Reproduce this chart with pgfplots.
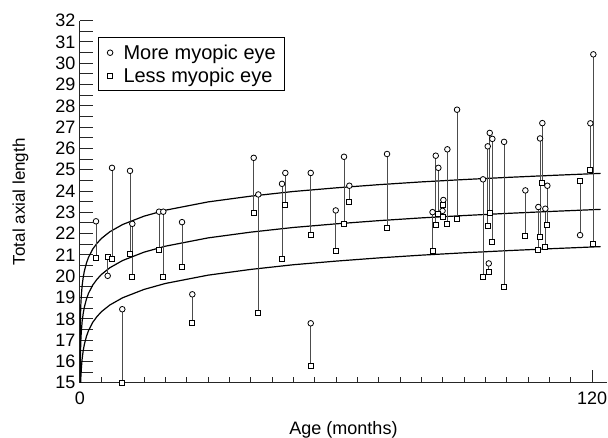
\documentclass[border=0pt]{standalone}
\usepackage{pgfplots}
\pgfplotsset{compat=1.18}
\usepackage{pgfplotstable}
\usepackage{fontspec}
\setmainfont{Liberation Sans}

\pgfplotstableread{
x c s
3.75 22.58 20.85
6.49 20.02 20.93
7.50 25.09 20.81
9.91 18.45 15.00
11.72 24.95 21.04
12.26 22.46 19.99
18.52 23.03 21.23
19.52 23.03 19.95
23.91 22.54 20.45
26.32 19.15 17.82
40.71 25.56 22.99
41.79 23.84 18.30
47.34 24.34 20.81
48.12 24.85 23.33
54.07 24.85 21.93
54.07 17.79 15.78
59.93 23.09 21.20
61.87 25.61 22.45
63.12 24.25 23.50
71.95 25.74 22.26
82.62 23.01 21.19
83.37 25.66 22.42
83.98 25.09 22.92
85.15 23.58 23.33
84.96 23.07 22.79
86.09 25.96 22.45
88.36 27.82 22.67
94.45 24.55 19.98
95.55 26.10 22.37
95.79 20.60 20.21
96.02 26.73 22.96
96.63 26.45 21.59
99.38 26.31 19.48
104.37 24.03 21.89
107.41 23.25 21.26
107.81 26.47 21.86
108.35 27.19 24.40
109.05 23.17 21.37
109.52 24.25 22.40
117.19 21.93 24.48
119.60 27.18 24.97
120.30 30.42 21.53
}\pairs

\begin{document}
\begin{tikzpicture}
\path[use as bounding box] (-80pt,-54.3pt) rectangle (528pt,382.7pt);
\begin{axis}[
  scale only axis, width=527pt, height=362pt,
  xmin=0, xmax=123.5, ymin=15, ymax=32,
  axis x line*=bottom, axis y line*=left,
  axis line style={black!85, line width=1pt},
  every tick/.style={black!85, line width=1pt},
  tick align=inside,
  xtick={0,120}, minor xtick={5,10,...,115},
  ytick={15,...,32},
  extra y ticks={15.5,16.5,...,31.5}, extra y tick labels={},
  major tick length=13pt, minor tick length=6pt,
  /pgf/number format/assume math mode=true,
  tick label style={font=\fontsize{18}{21}\selectfont},
  xticklabel style={yshift=-6pt},
  yticklabel style={xshift=-1pt},
  xlabel={Age (months)}, ylabel={Total axial length},
  label style={font=\fontsize{18}{21}\selectfont},
  x label style={at={(axis description cs:0.5,0)}, anchor=base, yshift=-51.3pt},
  y label style={at={(axis description cs:-0.1044,0.5)}, anchor=base, font=\fontsize{17}{20}\selectfont},
  legend style={at={(axis cs:4.29,31.22)}, anchor=north west, draw=black, line width=0.8pt,
    font=\fontsize{20}{23}\selectfont, inner xsep=7pt, inner ysep=3.5pt, column sep=0pt,
    row sep=0pt, nodes={inner ysep=3.5pt}},
  legend cell align=left,
  legend image code/.code={\path (-4pt,0pt) (11pt,0pt); \draw[#1] plot coordinates {(0pt,0pt)};},
]
\addplot[black, line width=1.2pt, forget plot] coordinates {
(0.0043,15) (0.01,15.80) (0.03,16.85) (0.1,18.01) (0.2,18.68) (0.3,19.06) (0.5,19.56) (0.75,19.94) (1,20.22) (1.5,20.61) (2,20.89) (3,21.28) (4,21.55) (5,21.77) (7,22.09) (10,22.43) (15,22.82) (20,23.10) (30,23.49) (40,23.76) (50,23.98) (60,24.15) (70,24.30) (80,24.43) (90,24.54) (100,24.64) (110,24.73) (122,24.83)};
\addplot[black, line width=1.2pt, forget plot] coordinates {
(0.025,15) (0.03,15.16) (0.1,16.32) (0.2,16.99) (0.3,17.37) (0.5,17.87) (0.75,18.25) (1,18.53) (1.5,18.92) (2,19.20) (3,19.59) (4,19.86) (5,20.08) (7,20.40) (10,20.74) (15,21.13) (20,21.41) (30,21.80) (40,22.07) (50,22.29) (60,22.46) (70,22.61) (80,22.74) (90,22.85) (100,22.95) (110,23.04) (122,23.14)};
\addplot[black, line width=1.2pt, forget plot] coordinates {
(0.157,15) (0.2,15.24) (0.3,15.62) (0.5,16.12) (0.75,16.50) (1,16.78) (1.5,17.17) (2,17.45) (3,17.84) (4,18.11) (5,18.33) (7,18.65) (10,18.99) (15,19.38) (20,19.66) (30,20.05) (40,20.32) (50,20.54) (60,20.71) (70,20.86) (80,20.99) (90,21.10) (100,21.20) (110,21.29) (122,21.39)};
\addplot[draw=none, no markers, forget plot,
  error bars/.cd, y dir=both, y explicit, error mark=none,
  error bar style={draw=black!70, line width=0.9pt}]
  table[x=x, y expr={(\thisrow{c}+\thisrow{s})/2}, y error expr={abs(\thisrow{c}-\thisrow{s})/2}] {\pairs};
\addplot[only marks, mark=*, mark size=2.8pt, mark options={fill=white, draw=black, line width=0.8pt}]
  table[x=x, y=c] {\pairs};
\addlegendentry{\fontsize{20}{23}\selectfont More myopic eye}
\addplot[only marks, mark=square*, mark size=2.5pt, mark options={fill=white, draw=black, line width=0.8pt}]
  table[x=x, y=s] {\pairs};
\addlegendentry{\fontsize{20}{23}\selectfont Less myopic eye}
\end{axis}
\end{tikzpicture}
\end{document}
